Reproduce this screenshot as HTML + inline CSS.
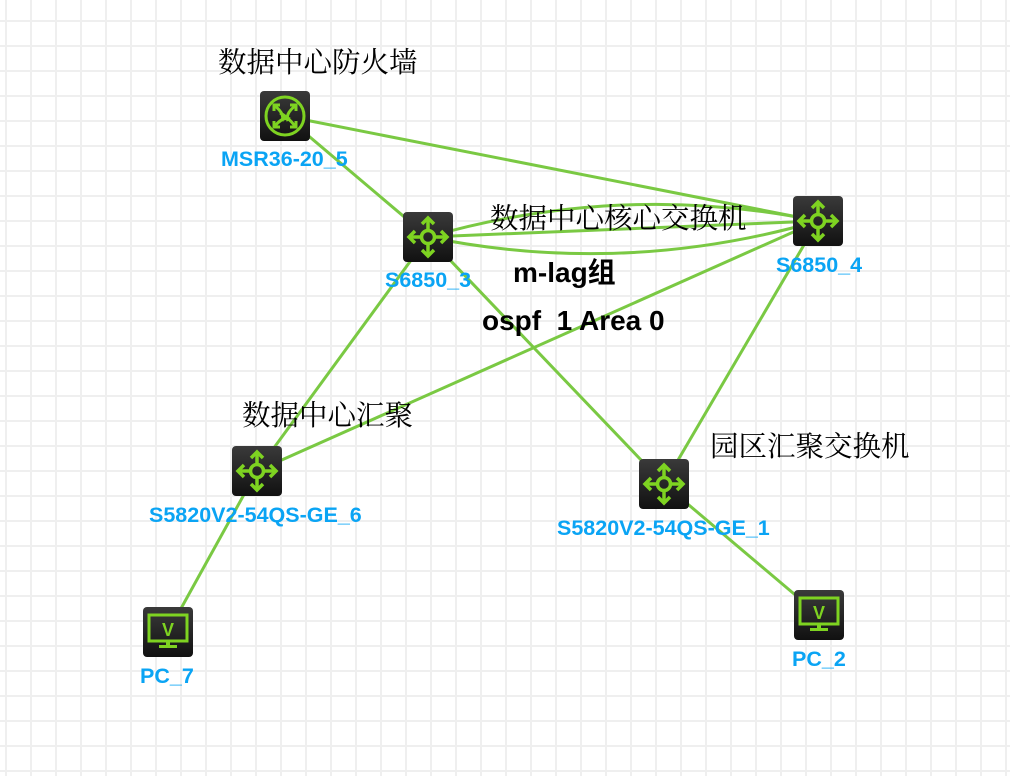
<!DOCTYPE html>
<html><head><meta charset="utf-8">
<style>
html,body{margin:0;padding:0;background:#fff;}
svg{display:block;}
.cn{font-family:"Liberation Serif","Noto Serif CJK SC",serif;font-size:28.5px;fill:#000;}
.bl{font-family:"Liberation Sans","Noto Sans CJK SC",sans-serif;font-size:21.5px;font-weight:bold;fill:#0aa4f4;}
.bk{font-family:"Liberation Sans","Noto Sans CJK SC",sans-serif;font-size:28px;font-weight:bold;fill:#000;}
</style></head><body>
<svg width="1010" height="776" viewBox="0 0 1010 776" xmlns="http://www.w3.org/2000/svg">
<defs>
<pattern id="g" x="6" y="21" width="25" height="25" patternUnits="userSpaceOnUse">
<rect x="-1" y="0" width="2" height="25" fill="#efefef"/>
<rect x="0" y="-1" width="25" height="2" fill="#efefef"/>
<rect x="24" y="0" width="2" height="25" fill="#efefef"/>
<rect x="0" y="24" width="25" height="2" fill="#efefef"/>
</pattern>
<linearGradient id="bg" x1="0" y1="0" x2="0" y2="1">
<stop offset="0" stop-color="#3a3a3a"/><stop offset="1" stop-color="#111"/>
</linearGradient>
<g id="sw">
<rect x="-25" y="-25" width="50" height="50" rx="4" fill="url(#bg)"/>
<g stroke="#7ed321" stroke-width="3.5" fill="none">
<circle r="6.5"/>
<line x1="0" y1="-6" x2="0" y2="-18"/><line x1="0" y1="6" x2="0" y2="18"/>
<line x1="-6" y1="0" x2="-18" y2="0"/><line x1="6" y1="0" x2="18" y2="0"/>
<polyline points="-6,-13 0,-19 6,-13"/><polyline points="-6,13 0,19 6,13"/>
<polyline points="-13,-6 -19,0 -13,6"/><polyline points="13,-6 19,0 13,6"/>
</g></g>
<g id="pc">
<rect x="-25" y="-25" width="50" height="50" rx="4" fill="url(#bg)"/>
<rect x="-19" y="-17" width="38" height="26" fill="none" stroke="#7ed321" stroke-width="3"/>
<text x="0" y="4" text-anchor="middle" font-family="Liberation Sans,sans-serif" font-weight="bold" font-size="18" fill="#7ed321">V</text>
<rect x="-2" y="9" width="4" height="4" fill="#7ed321"/>
<rect x="-9" y="13" width="18" height="3" fill="#7ed321"/>
</g>
</defs>
<rect width="1010" height="776" fill="#fff"/>
<rect width="1010" height="776" fill="url(#g)"/>
<g stroke="#7ac943" stroke-width="3" fill="none">
<line x1="285" y1="116" x2="818" y2="221"/>
<line x1="285" y1="116" x2="428" y2="237"/>
<line x1="428" y1="237" x2="818" y2="221"/>
<path d="M428 237 Q623 181 818 221"/>
<path d="M428 237 Q623 277 818 221"/>
<line x1="428" y1="237" x2="257" y2="471"/>
<line x1="428" y1="237" x2="664" y2="484"/>
<line x1="818" y1="221" x2="257" y2="471"/>
<line x1="818" y1="221" x2="664" y2="484"/>
<line x1="257" y1="471" x2="168" y2="632"/>
<line x1="664" y1="484" x2="819" y2="615"/>
</g>
<g transform="translate(285,116)">
<rect x="-25" y="-25" width="50" height="50" rx="4" fill="url(#bg)"/>
<circle r="19" fill="none" stroke="#7ed321" stroke-width="3"/>
<g stroke="#7ed321" stroke-width="3" fill="none">
<path d="M-10 -10 Q0 -2 -3 5 M10 -10 Q0 -2 3 5"/>
<path d="M-10 10 Q-2 0 5 3 M10 10 Q2 0 -5 -3"/>
<polyline points="-11,-5 -11,-11 -5,-11"/><polyline points="11,-5 11,-11 5,-11"/>
<polyline points="-11,5 -11,11 -5,11"/><polyline points="11,5 11,11 5,11"/>
</g></g>
<use href="#sw" x="428" y="237"/>
<use href="#sw" x="818" y="221"/>
<use href="#sw" x="257" y="471"/>
<use href="#sw" x="664" y="484"/>
<use href="#pc" x="168" y="632"/>
<use href="#pc" x="819" y="615"/>
<text class="cn" x="218" y="72">数据中心防火墙</text>
<text class="cn" x="490" y="228">数据中心核心交换机</text>
<text class="cn" x="242" y="425">数据中心汇聚</text>
<text class="cn" x="710" y="456">园区汇聚交换机</text>
<text class="bk" x="513" y="282">m-lag组</text>
<text class="bk" x="482" y="330" xml:space="preserve">ospf  1 Area 0</text>
<text class="bl" x="221" y="166">MSR36-20_5</text>
<text class="bl" x="385" y="287">S6850_3</text>
<text class="bl" x="776" y="272">S6850_4</text>
<text class="bl" x="149" y="522">S5820V2-54QS-GE_6</text>
<text class="bl" x="557" y="535">S5820V2-54QS-GE_1</text>
<text class="bl" x="140" y="683">PC_7</text>
<text class="bl" x="792" y="666">PC_2</text>
</svg>
</body></html>
